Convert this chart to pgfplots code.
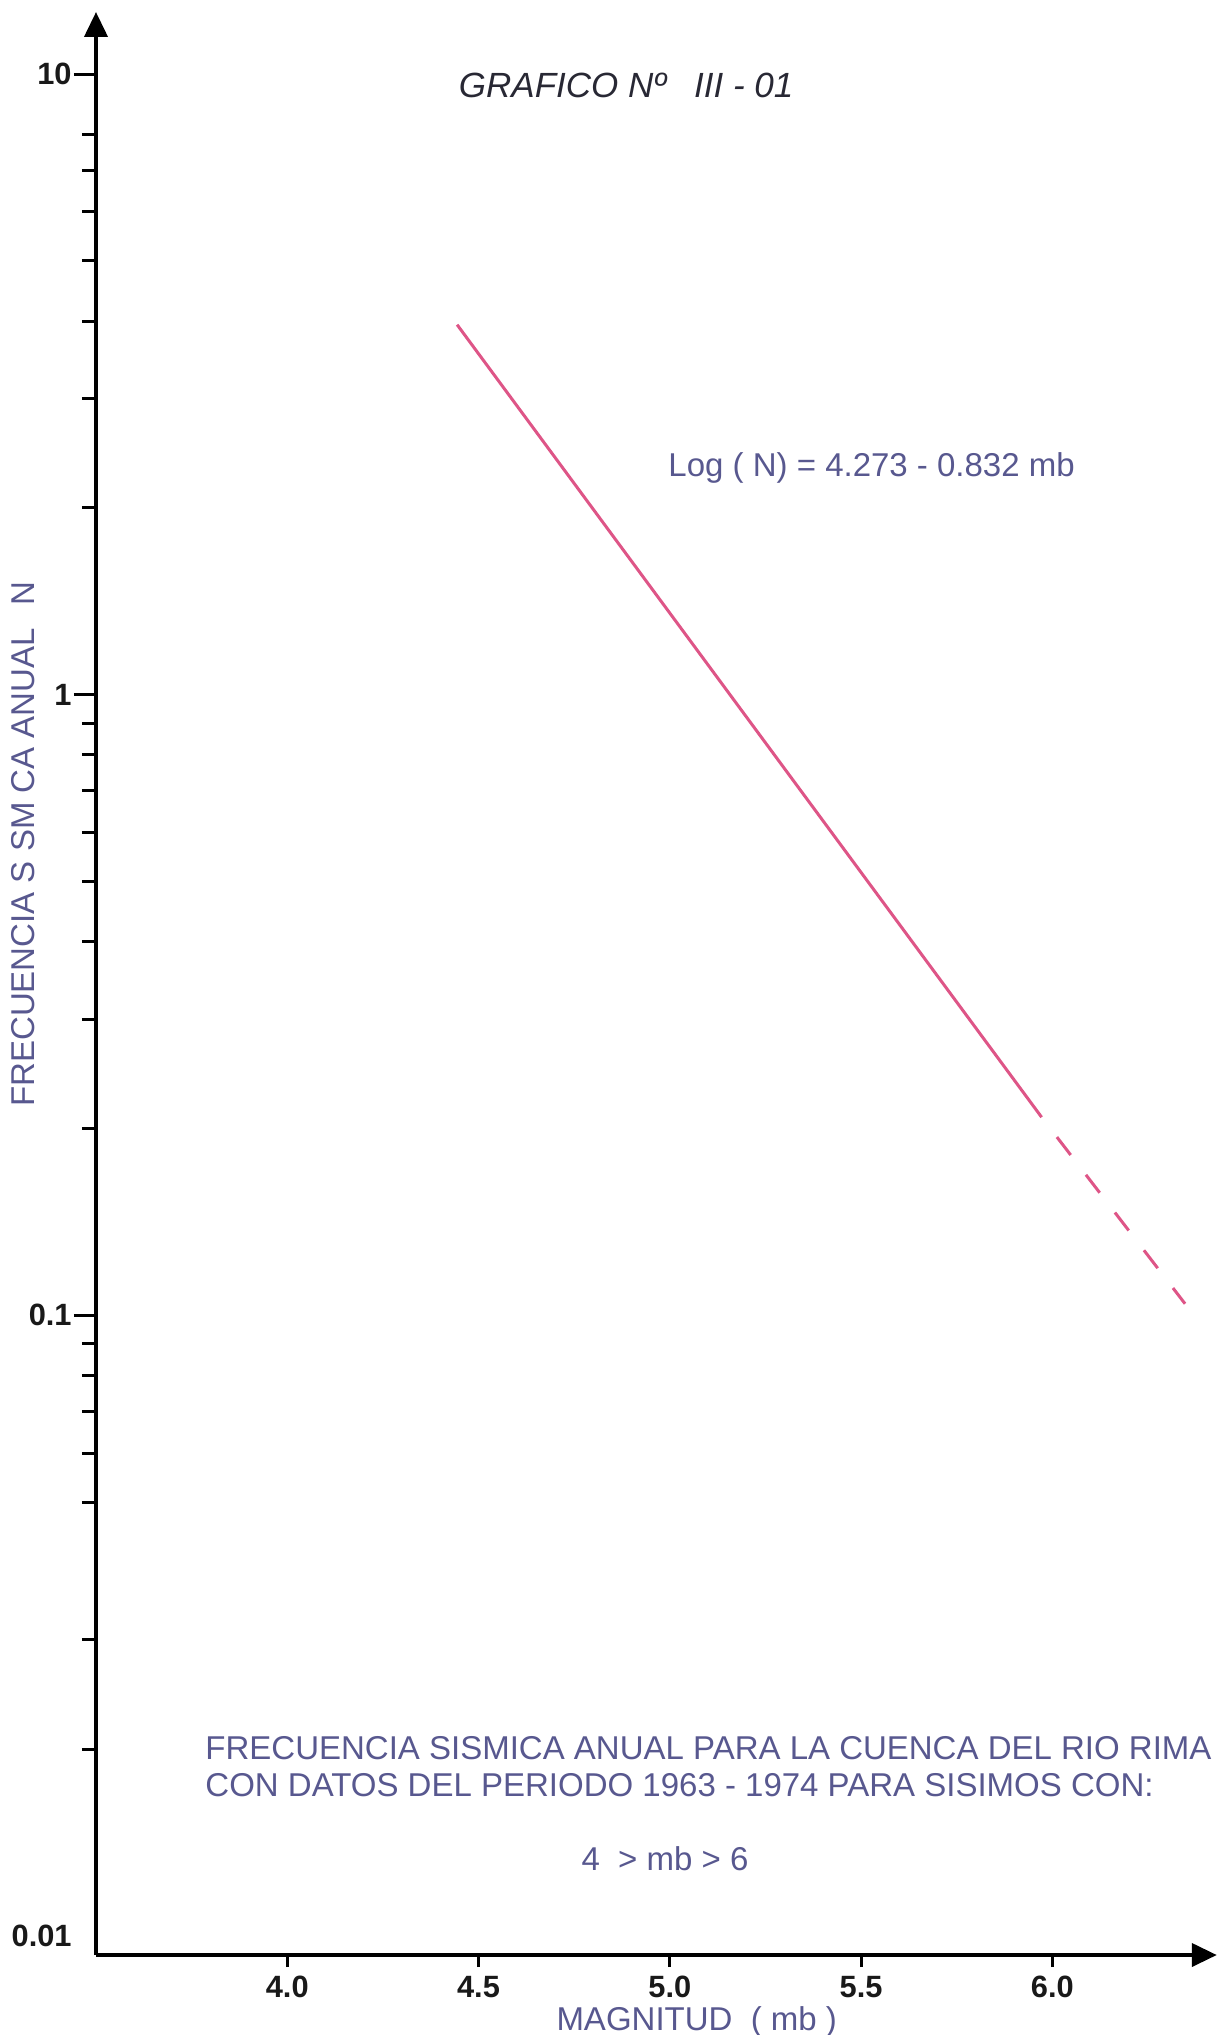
\documentclass[border=0pt]{standalone}
\usepackage{fontspec}
\setmainfont{Liberation Sans}
\usepackage{pgfplots}
\pgfplotsset{compat=1.18}
\usetikzlibrary{arrows.meta}
\definecolor{txtblue}{RGB}{88,88,143}
\definecolor{linepink}{RGB}{222,85,135}
\definecolor{titlegray}{RGB}{40,40,52}
\begin{document}
\begin{tikzpicture}
\useasboundingbox (-48pt,-40pt) rectangle (561.5pt,977.5pt);
\begin{axis}[
  at={(0pt,0pt)}, anchor=south west,
  scale only axis, width=560.4pt, height=971.5pt,
  xmin=3.5, xmax=6.43,
  ymode=log, ymin=0.00932, ymax=12.59,
  clip=false,
  axis lines=left,
  axis line style={line width=2pt, black, -{Triangle[length=12.5pt,width=11.5pt]}},
  tick align=outside,
  major tick length=11pt, minor tick length=7pt,
  every tick/.style={black, line width=1.5pt},
  ytick={0.1,1,10},
  yticklabels={0.1,1,10},
  extra y ticks={0.01},
  extra y tick labels={0.01},
  extra y tick style={major tick length=0pt, yticklabel style={font=\fontsize{15.4}{16}\selectfont\bfseries, text=black!90, inner sep=1pt, xshift=-11pt}},
  minor ytick={2,3,4,5,6,7,8,0.2,0.3,0.4,0.5,0.6,0.7,0.8,0.9,0.02,0.03,0.05,0.06,0.07,0.08,0.09},
  /pgf/number format/assume math mode=true,
  yticklabel style={font=\fontsize{15.4}{16}\selectfont\bfseries, text=black!90, inner sep=1pt},
  xtick=\empty,
  extra x ticks={4,4.5,5,5.5,6},
  extra x tick labels={4.0,4.5,5.0,5.5,6.0},
  extra x tick style={major tick length=6pt, tick align=outside,
     xticklabel style={font=\fontsize{15.4}{16}\selectfont\bfseries, text=black!90, anchor=north, inner sep=0pt, yshift=-4.5pt}},
  xlabel={MAGNITUD~ ( mb )},
  xlabel style={at={(axis description cs:0.536,-0.0345)}, anchor=center, font=\fontsize{16.5}{18}\selectfont, text=txtblue},
  ylabel={FRECUENCIA S SM CA ANUAL\hspace{0.7em}N},
  ylabel style={at={(axis description cs:-0.0651,0.5718)}, anchor=center, font=\fontsize{16.5}{18}\selectfont, text=txtblue},
]
\addplot[linepink, line width=1.5pt] coordinates {(4.444,3.947) (5.972,0.2086)};
\addplot[linepink, line width=1.5pt, dash pattern=on 11.3pt off 12.5pt] coordinates {(6.012,0.1938) (6.347,0.1044)};
\node[anchor=base, inner sep=0pt, font=\itshape\fontsize{17.5}{20}\selectfont, text=titlegray] at (rel axis cs:0.473,0.9562) {GRAFICO Nº\hspace{0.8em}III - 01};
\node[anchor=base west, inner sep=0pt, font=\fontsize{16.5}{18}\selectfont, text=txtblue] at (rel axis cs:0.5104,0.7608) {Log ( N) = 4.273 - 0.832 mb};
\node[anchor=base west, inner sep=0pt, font=\fontsize{16.5}{18}\selectfont, text=txtblue] at (rel axis cs:0.0973,0.1004) {FRECUENCIA SISMICA ANUAL PARA LA CUENCA DEL RIO RIMA};
\node[anchor=base west, inner sep=0pt, font=\fontsize{16.5}{18}\selectfont, text=txtblue] at (rel axis cs:0.0973,0.0818) {CON DATOS DEL PERIODO 1963 - 1974 PARA SISIMOS CON:};
\node[anchor=base, inner sep=0pt, font=\fontsize{16.5}{18}\selectfont, text=txtblue] at (rel axis cs:0.5077,0.0437) {4~ > mb > 6};
\end{axis}
\end{tikzpicture}
\end{document}
